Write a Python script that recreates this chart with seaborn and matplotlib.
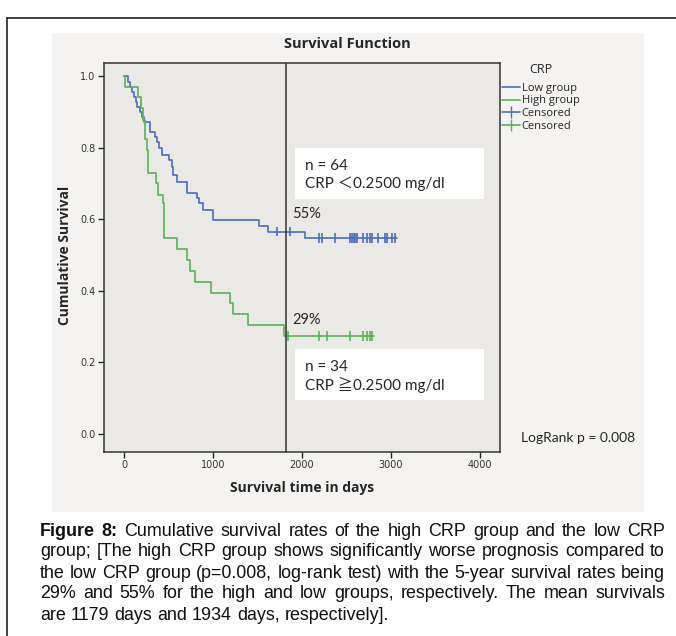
import numpy as np
import pandas as pd
import matplotlib
matplotlib.use("Agg")
import matplotlib.pyplot as plt
import seaborn as sns
from matplotlib.lines import Line2D
from matplotlib.patches import Rectangle

# ---------------- data ----------------
low_days = [0, 50, 70, 90, 110, 130, 150, 175, 200, 220, 290, 345, 370, 395, 425,
            505, 535, 555, 600, 705, 825, 848, 885, 998, 1520, 1622, 2034, 3064]
low_surv = [1.0, 0.984, 0.970, 0.956, 0.942, 0.928, 0.914, 0.900, 0.886, 0.870,
            0.844, 0.830, 0.816, 0.798, 0.779, 0.765, 0.747, 0.723, 0.705, 0.672,
            0.658, 0.644, 0.626, 0.597, 0.581, 0.565, 0.547, 0.547]
low_censor = [1715, 1870, 2195, 2220, 2371, 2540, 2560, 2580, 2600, 2620, 2690,
              2730, 2760, 2790, 2854, 2933, 2955, 3011, 3045]

high_days = [0, 10, 160, 187, 210, 236, 255, 265, 360, 386, 434, 450, 600, 704,
             742, 798, 978, 1191, 1220, 1397, 1800, 2812]
high_surv = [1.0, 0.970, 0.940, 0.911, 0.876, 0.823, 0.792, 0.728, 0.700, 0.668,
             0.644, 0.547, 0.516, 0.486, 0.456, 0.425, 0.395, 0.367, 0.334, 0.304,
             0.274, 0.274]
high_censor = [1846, 2194, 2277, 2539, 2682, 2733, 2760, 2782]

groups = ["Low group", "High group"]
five_year_day = 1825
x_ticks = [0, 1000, 2000, 3000, 4000]
y_ticks = [0.0, 0.2, 0.4, 0.6, 0.8, 1.0]

BLUE = "#4a6cc0"
GREEN = "#55b457"

# ---------------- tables ----------------
curves = pd.concat([
    pd.DataFrame({"day": low_days, "surv": low_surv, "group": groups[0]}),
    pd.DataFrame({"day": high_days, "surv": high_surv, "group": groups[1]}),
], ignore_index=True)

def level_at(days, surv, t):
    i = np.searchsorted(np.array(days), t, side="right") - 1
    return surv[i]

cens = pd.concat([
    pd.DataFrame({"day": low_censor,
                  "surv": [level_at(low_days, low_surv, t) for t in low_censor],
                  "group": groups[0]}),
    pd.DataFrame({"day": high_censor,
                  "surv": [level_at(high_days, high_surv, t) for t in high_censor],
                  "group": groups[1]}),
], ignore_index=True)

# ---------------- figure ----------------
sns.set_theme(style="white")
plt.rcParams["font.family"] = ["Open Sans", "DejaVu Sans"]

fig = plt.figure(figsize=(6.76, 6.36), dpi=100)
W, H = 676, 636

def fx(px):
    return px / W

def fy(py):
    return 1 - py / H

# outer frame and chart background
fig.patches.append(Rectangle((fx(52), fy(512)), fx(644) - fx(52), fy(33) - fy(512),
                             transform=fig.transFigure, facecolor="#f4f3f1",
                             edgecolor="none", zorder=-5))
fig.add_artist(Line2D([fx(7), fx(7)], [0, fy(18)], color="#222222", lw=1.2))
fig.add_artist(Line2D([fx(7), 1], [fy(18), fy(18)], color="#222222", lw=1.2))

ax = fig.add_axes([fx(104), fy(452), fx(500) - fx(104), fy(63) - fy(452)])
ax.set_zorder(1)
ax.set_facecolor("#ebe9e5")

pal = {groups[0]: BLUE, groups[1]: GREEN}
sns.lineplot(data=curves, x="day", y="surv", hue="group", palette=pal,
             drawstyle="steps-post", estimator=None, sort=False, lw=1.2,
             legend=False, ax=ax)
sns.scatterplot(data=cens, x="day", y="surv", hue="group", palette=pal,
                marker="|", s=45, linewidth=1.2, legend=False, ax=ax)

ax.axvline(five_year_day, color="#333333", lw=1.1)

ax.set_xlim(-225, 4225)
ax.set_ylim(-0.05, 1.036)
ax.set_xticks(x_ticks)
ax.set_xticklabels([str(v) for v in x_ticks], fontsize=7, family="DejaVu Sans",
                   color="#333333")
ax.set_yticks(y_ticks)
ax.set_yticklabels([f"{v:.1f}" for v in y_ticks], fontsize=7, family="DejaVu Sans",
                   color="#333333")
ax.tick_params(direction="out", length=4, width=1, color="#222222", pad=2,
               bottom=True, left=True)
for s in ax.spines.values():
    s.set_color("#333333")
    s.set_linewidth(1.1)

ax.set_xlabel("")
ax.set_ylabel("")

# annotation boxes
fam = ["Lato", "Noto Sans CJK JP", "DejaVu Sans"]
for top, l1, l2 in [(148, "n = 64", "CRP \uff1c0.2500 mg/dl"),
                    (349, "n = 34", "CRP \u22670.2500 mg/dl")]:
    ax.add_patch(Rectangle((fx(295), fy(top + 51)), fx(484) - fx(295),
                           fy(top) - fy(top + 51), transform=fig.transFigure,
                           facecolor="white", edgecolor="none", zorder=5))
    ax.text(fx(305), fy(top + 18), l1, ha="left", va="center", fontsize=11,
            family=fam, zorder=6, transform=fig.transFigure)
    ax.text(fx(305), fy(top + 36), l2, ha="left", va="center", fontsize=11,
            family=fam, zorder=6, transform=fig.transFigure)

ax.text(fx(292), fy(214), "55%", ha="left", va="center", fontsize=10.5, family=fam,
        transform=fig.transFigure, zorder=6)
ax.text(fx(292), fy(320), "29%", ha="left", va="center", fontsize=10.5, family=fam,
        transform=fig.transFigure, zorder=6)

fig.text(fx(347), fy(44), "Survival Function", ha="center", va="center",
         fontsize=10.5, fontweight="bold", family="Open Sans")
fig.text(fx(302), fy(488), "Survival time in days", ha="center", va="center",
         fontsize=10, fontweight="bold", family="Open Sans")
fig.text(fx(65), fy(255), "Cumulative Survival", ha="center", va="center",
         rotation=90, fontsize=10, fontweight="bold", family="Open Sans")
fig.text(fx(521), fy(438), "LogRank p = 0.008", ha="left", va="center",
         fontsize=10, family=fam)

# legend
handles = [Line2D([], [], color=BLUE, lw=1.2),
           Line2D([], [], color=GREEN, lw=1.2),
           Line2D([], [], color=BLUE, lw=1.2, marker="|", markersize=8),
           Line2D([], [], color=GREEN, lw=1.2, marker="|", markersize=8)]
labels = ["Low group", "High group", "Censored", "Censored"]
leg = fig.legend(handles, labels, title="CRP", loc="upper left",
                 bbox_to_anchor=(fx(494), fy(55)), frameon=False,
                 fontsize=8, title_fontsize=9, handlelength=1.6,
                 handletextpad=0.2, labelspacing=0.15, borderpad=0.2)
leg._legend_box.sep = 5

# caption (justified lines)
cap_lines = [
    [("Figure 8:", True), ("Cumulative survival rates of the high CRP group and the low CRP", False)],
    [("group; [The high CRP group shows significantly worse prognosis compared to", False)],
    [("the low CRP group (p=0.008, log-rank test) with the 5-year survival rates being", False)],
    [("29% and 55% for the high and low groups, respectively. The mean survivals", False)],
    [("are 1179 days and 1934 days, respectively].", False)],
]
cap_y = [531, 552, 573, 594, 615]
cap_left, cap_right = 40, 665
cap_fam = "Liberation Sans"
renderer = fig.canvas.get_renderer()

def natural_width(parts, fs):
    t = fig.text(0, 0, "", fontsize=fs, family=cap_fam)
    total = 0
    for txt, bold in parts:
        t.set_text(txt + " ")
        t.set_fontweight("bold" if bold else "normal")
        total += t.get_window_extent(renderer).width
    t.remove()
    return total

cap_fs = 13.0
while cap_fs > 8 and max(natural_width(p, cap_fs) for p in cap_lines[:-1]) > (cap_right - cap_left + 4):
    cap_fs -= 0.1

probe = fig.text(0, 0, "a b", fontsize=cap_fs, family=cap_fam)
w_ab_sp = probe.get_window_extent(renderer).width
probe.set_text("ab")
space_w = w_ab_sp - probe.get_window_extent(renderer).width
probe.remove()

for li, (parts, yy) in enumerate(zip(cap_lines, cap_y)):
    words = []
    for txt, bold in parts:
        for w in txt.split(" "):
            words.append((w, bold))
    arts = []
    for w, bold in words:
        t = fig.text(0, fy(yy), w, ha="left", va="center", fontsize=cap_fs,
                     family=cap_fam, fontweight="bold" if bold else "normal",
                     color="#111111")
        arts.append(t)
    widths = [a.get_window_extent(renderer).width for a in arts]
    total = sum(widths)
    if li < len(cap_lines) - 1 and len(arts) > 1:
        gap = (cap_right - cap_left - total) / (len(arts) - 1)
    else:
        gap = space_w
    x = cap_left
    for a, w in zip(arts, widths):
        a.set_x(fx(x))
        x += w + gap

fig.savefig("out.png", dpi=100)
